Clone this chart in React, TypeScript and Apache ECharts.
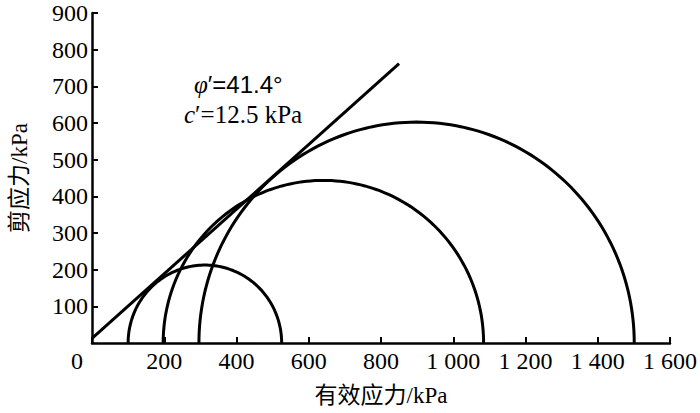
import { useEffect, useRef } from "react";
import * as echarts from "echarts";

// Mohr circles: minor and major effective principal stress (kPa)
const SIGMA3 = [100, 197, 296];
const SIGMA1 = [525, 1084, 1501];

// failure envelope end points [sigma', tau] (kPa)
const ENVELOPE = [
  [0, 12.5],
  [850, 762],
];

const X_TICKS = { min: 0, max: 1600, interval: 200 };
const Y_TICKS = { min: 0, max: 900, interval: 100 };

const SERIF = "Liberation Serif, Noto Sans CJK SC, serif";
const SANS = "Liberation Sans, Arial, sans-serif";
const INK = "#000";

const fmtThousands = (v: number) =>
  v >= 1000 ? `${Math.floor(v / 1000)} ${String(v % 1000).padStart(3, "0")}` : String(v);

const tickText = { fontSize: 24, fontFamily: SERIF, color: INK };

export default function App() {
  const chartRef = useRef<HTMLDivElement>(null);

  useEffect(() => {
    if (!chartRef.current) return;
    const chart = echarts.init(chartRef.current, undefined, { renderer: "svg" });

    const circles = SIGMA3.map((s3, i) => [s3, SIGMA1[i]]);

    chart.setOption({
      animation: false,
      backgroundColor: "#fff",
      grid: { left: 86, right: 30, top: 13, bottom: 70, containLabel: false },
      xAxis: {
        type: "value",
        ...X_TICKS,
        name: "有效应力/kPa",
        nameLocation: "middle",
        nameGap: 41,
        nameTextStyle: { color: INK, fontSize: 23, fontFamily: SERIF },
        axisLine: { show: true, lineStyle: { color: INK, width: 2.5 } },
        axisTick: { show: true, inside: true, length: 6, lineStyle: { color: INK, width: 2 } },
        splitLine: { show: false },
        axisLabel: {
          ...tickText,
          margin: 6,
          formatter: (v: number) => (v === 0 ? "{z|0}" : `{n|${fmtThousands(v)}}`),
          rich: {
            n: tickText,
            z: { ...tickText, padding: [0, 30, 0, 0] },
          },
        },
      },
      yAxis: {
        type: "value",
        ...Y_TICKS,
        name: "剪应力/kPa",
        nameLocation: "middle",
        nameGap: 61,
        nameRotate: 90,
        nameTextStyle: { color: INK, fontSize: 23, fontFamily: SERIF },
        axisLine: { show: true, lineStyle: { color: INK, width: 2.5 } },
        axisTick: { show: true, inside: true, length: 6, lineStyle: { color: INK, width: 2 } },
        splitLine: { show: false },
        axisLabel: {
          ...tickText,
          margin: 4,
          showMinLabel: false,
          formatter: (v: number) => `{n|${v}}`,
          rich: { n: tickText },
        },
      },
      graphic: [
        {
          type: "text",
          left: 194,
          top: 72,
          style: {
            text: "{i|φ}{n|′=41.4°}",
            rich: {
              i: { fontSize: 25, fontFamily: SERIF, fontStyle: "italic", fill: INK },
              n: { fontSize: 24, fontFamily: SANS, fill: INK },
            },
          },
        },
        {
          type: "text",
          left: 184,
          top: 102,
          style: {
            text: "{i|c}{n|′=12.5 kPa}",
            rich: {
              i: { fontSize: 25, fontFamily: SERIF, fontStyle: "italic", fill: INK },
              n: { fontSize: 25, fontFamily: SERIF, fill: INK },
            },
          },
        },
      ],
      series: [
        {
          type: "line",
          data: ENVELOPE,
          symbol: "none",
          lineStyle: { color: INK, width: 3 },
          silent: true,
        },
        {
          type: "custom",
          data: circles,
          silent: true,
          renderItem: (_params: any, api: any) => {
            const s3 = api.value(0);
            const s1 = api.value(1);
            const c = (s3 + s1) / 2;
            const r = (s1 - s3) / 2;
            const pts: number[][] = [];
            const n = 120;
            for (let k = 0; k <= n; k++) {
              const a = (Math.PI * k) / n;
              pts.push(api.coord([c + r * Math.cos(a), r * Math.sin(a)]));
            }
            return {
              type: "polyline",
              shape: { points: pts },
              style: { stroke: INK, lineWidth: 3, fill: "none" },
            };
          },
        },
      ],
    });

    return () => chart.dispose();
  }, []);

  return (
    <div
      ref={chartRef}
      style={{ position: "fixed", left: 0, top: 0, width: 700, height: 413 }}
    />
  );
}
